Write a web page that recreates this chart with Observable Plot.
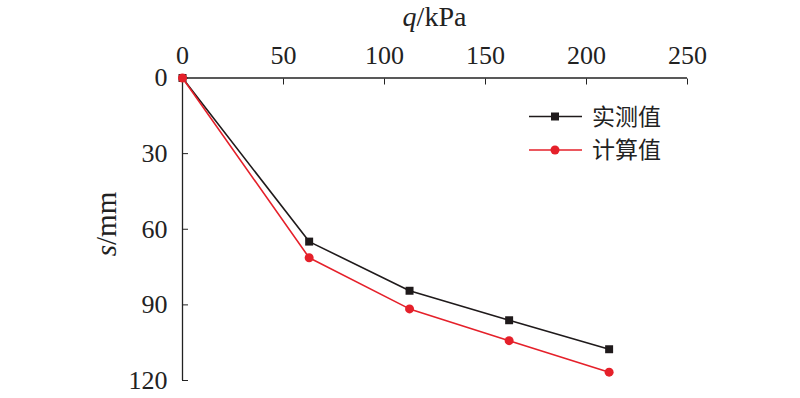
<!DOCTYPE html>
<html><head><meta charset="utf-8">
<script src="https://cdn.jsdelivr.net/npm/d3@7"></script>
<script src="https://cdn.jsdelivr.net/npm/@observablehq/plot@0.6"></script>
<style>body{margin:0;background:#fff;} #chart{width:800px;height:398px;}</style>
</head><body><div id="chart"></div>
<script>
const loads = [0, 62.7, 112.4, 161.7, 211.2];
const measured = [0, 64.9, 84.4, 96.1, 107.6];
const calculated = [0, 71.3, 91.6, 104.2, 116.7];
const seriesNames = ["实测值", "计算值"];
const seriesColors = ["#1f1a1b", "#e5202a"];
const seriesSymbols = ["square", "circle"];
const xTicks = [0, 50, 100, 150, 200, 250];
const yTicks = [0, 30, 60, 90, 120];

const rows = [];
loads.forEach((q, i) => rows.push({q, s: measured[i], series: seriesNames[0]}));
loads.forEach((q, i) => rows.push({q, s: calculated[i], series: seriesNames[1]}));

const serif = "'Liberation Serif', 'Times New Roman', serif";
const marks = [
  Plot.ruleY([0], {stroke: "#222", strokeWidth: 1.3}),
  Plot.ruleX([0], {stroke: "#222", strokeWidth: 1.3}),
  Plot.axisX({anchor: "top", ticks: xTicks, tickSize: -6, tickPadding: 20, fontSize: 26, label: null, stroke: "#222"}),
  Plot.axisY({anchor: "left", ticks: yTicks, tickSize: -6, tickPadding: 21, fontSize: 26, label: null, stroke: "#222"})
];
seriesNames.forEach((name, k) => {
  const data = rows.filter(d => d.series === name);
  marks.push(Plot.line(data, {x: "q", y: "s", stroke: seriesColors[k], strokeWidth: 1.6}));
  marks.push(Plot.dot(data, {x: "q", y: "s", fill: seriesColors[k], symbol: seriesSymbols[k], r: 4.5, stroke: "none"}));
});

const chart = Plot.plot({
  width: 800, height: 398,
  marginLeft: 182, marginRight: 113, marginTop: 77.5, marginBottom: 18,
  style: {fontFamily: serif, fontSize: "26px", color: "#222", background: "#fff"},
  x: {domain: [0, 250]},
  y: {domain: [0, 120], reverse: true},
  marks
});
document.getElementById("chart").appendChild(chart);

const svg = d3.select(chart);
// axis titles
const xt = svg.append("text").attr("x", 434.5).attr("y", 26).attr("text-anchor", "middle")
  .attr("font-family", serif).attr("font-size", 28).attr("fill", "#222");
xt.append("tspan").attr("font-style", "italic").text("q");
xt.append("tspan").text("/kPa");
const yt = svg.append("text").attr("transform", "translate(116,224) rotate(-90)").attr("text-anchor", "middle")
  .attr("font-family", serif).attr("font-size", 29).attr("fill", "#222");
yt.append("tspan").attr("font-style", "italic").text("s");
yt.append("tspan").text("/mm");

// legend
const lg = svg.append("g");
const rowGap = 33.5, firstRow = 116.5;
seriesNames.forEach((name, k) => {
  const y = firstRow + k * rowGap;
  lg.append("line").attr("x1", 529).attr("x2", 582).attr("y1", y).attr("y2", y)
    .attr("stroke", seriesColors[k]).attr("stroke-width", 1.6);
  if (seriesSymbols[k] === "square") {
    lg.append("rect").attr("x", 551).attr("y", y - 4).attr("width", 8).attr("height", 8).attr("fill", seriesColors[k]);
  } else {
    lg.append("circle").attr("cx", 555).attr("cy", y).attr("r", 4.5).attr("fill", seriesColors[k]);
  }
  lg.append("text").attr("x", 592).attr("y", y).attr("dy", "0.36em").attr("text-anchor", "start")
    .attr("font-family", "'Noto Sans CJK SC', sans-serif").attr("font-size", 23).attr("fill", "#222").text(name);
});
</script></body></html>
